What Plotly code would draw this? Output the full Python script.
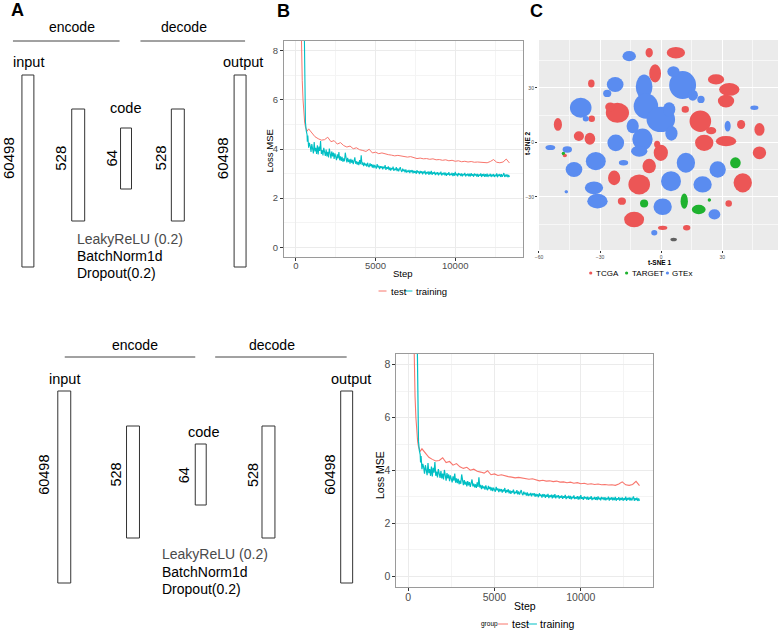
import plotly.graph_objects as go

W, H = 778, 630
FONT = "Liberation Sans, Arial, Helvetica, sans-serif"

# ---------------- data ----------------
# Panel B: loss curves (same run shown twice)
test_step = [250, 300, 350, 400, 450, 500, 550, 600, 650, 700, 800, 900, 1000] + list(range(1200, 13401, 200))
test_loss = [12.0, 9.6, 8.0, 6.8, 6.0, 5.45, 5.1, 4.9, 4.78, 4.72, 4.82, 4.75, 4.64,
             4.50, 4.42, 4.36, 4.38, 4.48, 4.30, 4.34, 4.20, 4.26, 4.14,
             4.08, 4.12, 4.01, 4.05, 3.97, 3.94, 3.90, 3.99, 3.84, 3.87,
             3.81, 3.84, 3.79, 3.77, 3.75, 3.72, 3.74, 3.71, 3.69, 3.67,
             3.69, 3.64, 3.61, 3.63, 3.60, 3.61, 3.58, 3.60, 3.56, 3.57,
             3.54, 3.56, 3.52, 3.54, 3.50, 3.52, 3.48, 3.50, 3.47, 3.49,
             3.46, 3.47, 3.45, 3.46, 3.44, 3.49, 3.57, 3.46, 3.44, 3.47,
             3.59, 3.43]

train_step = [450, 500, 530, 560, 600, 650, 700, 720, 750, 800, 850] + list(range(900, 13401, 50))
train_loss = [13.0, 9.8, 7.5, 6.0, 5.1, 4.75, 4.6, 4.3, 4.55, 4.05, 4.25,
              4.12, 3.88, 4.20, 3.95, 3.82, 4.28, 3.90, 4.05, 3.80, 4.15,
              3.78, 4.10, 3.92, 4.32, 3.80, 3.96, 3.74, 4.05, 3.86, 3.72,
              3.98, 3.70, 3.88, 3.66, 4.02, 3.75, 3.62, 3.90, 3.70, 3.85,
              3.60, 3.82, 3.66, 3.55, 3.78, 3.62, 3.88, 3.54, 3.70, 3.52,
              3.68, 3.48, 3.62, 3.50, 3.85, 3.58, 3.45, 3.64, 3.47, 3.58,
              3.40, 3.60, 3.44, 3.56, 3.38, 3.52, 3.66, 3.40, 3.50, 3.36,
              3.48, 3.34, 3.55, 3.38, 3.74, 3.36, 3.46, 3.30, 3.44, 3.33,
              3.40, 3.28, 3.44, 3.31, 3.26, 3.42, 3.30, 3.38, 3.24, 3.36,
              3.22, 3.35, 3.27, 3.20, 3.38, 3.25, 3.32, 3.18, 3.30, 3.22,
              3.30, 3.17, 3.28, 3.21, 3.34, 3.15, 3.26, 3.19, 3.29, 3.14,
              3.25, 3.12, 3.22, 3.17, 3.28, 3.11, 3.20, 3.14, 3.26, 3.10,
              3.21, 3.09, 3.18, 3.26, 3.12, 3.07, 3.20, 3.10, 3.16, 3.05,
              3.17, 3.04, 3.12, 3.06, 3.15, 3.02, 3.13, 3.08, 3.14, 3.01,
              3.12, 3.03, 3.10, 2.99, 3.14, 3.04, 3.09, 2.98, 3.11, 3.02,
              3.10, 2.97, 3.08, 3.01, 3.12, 2.96, 3.06, 3.00, 3.09, 2.95,
              3.08, 2.98, 3.11, 2.95, 3.05, 2.99, 3.07, 2.94, 3.04, 2.97,
              3.06, 2.93, 3.03, 2.97, 3.08, 2.92, 3.02, 2.96, 3.05, 2.93,
              3.04, 2.91, 3.01, 2.95, 3.06, 2.92, 2.99, 2.94, 3.03, 2.90,
              3.02, 2.91, 3.07, 2.93, 2.99, 2.89, 3.02, 2.94, 3.00, 2.90,
              3.01, 2.89, 2.98, 2.93, 3.03, 2.88, 2.97, 2.92, 3.00, 2.89,
              2.99, 2.88, 3.02, 2.91, 2.97, 2.87, 3.00, 2.92, 2.98, 2.88,
              2.99, 2.87, 2.96, 2.91, 3.01, 2.86, 2.97, 2.90, 2.99, 2.87,
              2.97, 2.88, 3.00, 2.86, 2.95, 2.90, 2.99, 2.86, 2.96, 2.89,
              2.98, 2.86, 2.95, 2.89, 3.01, 2.85, 2.96, 2.90, 2.98, 2.86,
              2.97, 2.87, 2.94, 3.02, 2.86, 2.95, 2.88, 2.97, 2.85, 2.94,
              2.86]

loss_xticks = [0, 5000, 10000]
loss_yticks = [0, 2, 4, 6, 8]

# Panel A: autoencoder architecture
layer_names = ["input", "", "code", "", "output"]
layer_units = ["60498", "528", "64", "528", "60498"]
section_names = ["encode", "decode"]
layer_notes = ["LeakyReLU (0.2)", "BatchNorm1d", "Dropout(0.2)"]

# Panel C: t-SNE clusters (centre x, centre y, half-width, half-height in t-SNE units)
tcga_x = [-5.9, 7.2, -3.0, -34.3, 26.9, 33.4, 31.8, -21.5, -34.1, -50.7, -40.4, -35.0, 11.8, 19.2, 21.1, 31.8,
          39.2, 48.2, 48.2, -0.2, -5.9, -23.1, -10.8, -19.3, 40.0, 33.1, -13.3, 0.7, 12.5, -47.3,
          -2.0, 24.5, -25.0, 1.5]
tcga_y = [49.4, 49.4, 38.0, 32.5, 34.7, 29.2, 22.8, 16.3, 13.0, 9.9, 3.5, 2.0, 18.2, 11.7, -0.2, 0.7,
          9.9, 7.2, -5.7, -5.7, -13.0, -19.5, -23.1, -32.3, -22.2, -33.6, -42.4, -47.0, -47.0, -7.2,
          -1.0, 6.5, 19.5, 10.0]
tcga_rx = [1.8, 4.5, 2.9, 1.6, 4.0, 5.0, 4.0, 5.7, 1.6, 2.0, 2.5, 2.6, 1.8, 5.3, 4.5, 5.0,
           2.0, 2.5, 3.3, 3.5, 3.3, 3.0, 5.3, 2.0, 4.5, 1.6, 4.9, 2.3, 1.8, 1.0,
           1.5, 2.5, 2.5, 0.8]
tcga_ry = [2.6, 3.2, 5.0, 2.2, 2.8, 3.5, 3.5, 5.5, 1.8, 3.5, 2.7, 3.3, 1.8, 5.9, 4.5, 2.8,
           2.5, 3.5, 3.5, 4.5, 4.0, 4.0, 5.5, 2.0, 5.3, 1.8, 4.3, 1.2, 1.5, 1.0,
           2.0, 2.0, 2.5, 0.8]

gtex_x = [-15.7, -22.6, -39.5, -22.3, -32.1, -42.8, -33.0, -31.3, -54.4, -46.1, -8.4, -7.5, -0.2, -9.2, 3.9,
          -10.8, 10.5, 12.1, 4.8, 27.7, 20.3, 0.7, 26.1, -3.4, 19.5, 32.6, 45.7, -18.5, -46.6,
          -14.0, 5.0, 6.0, 15.5, -26.5, -37.0]
gtex_y = [47.5, 31.9, 19.1, -0.2, -10.3, -14.9, -25.0, -32.3, -2.8, -3.9, 30.6, 20.0, 12.7, 1.7, 18.2,
          -4.8, 31.6, -11.2, -21.3, -14.9, -23.1, -35.4, -39.6, -49.7, 23.7, 9.0, 19.1, -11.2, -27.2,
          9.0, 5.0, 39.0, 26.0, 27.0, 13.0]
gtex_rx = [3.3, 4.1, 5.3, 4.1, 4.9, 4.1, 4.5, 5.0, 2.4, 2.3, 4.1, 6.0, 7.0, 5.0, 3.0,
           4.0, 6.6, 4.5, 4.9, 4.0, 4.5, 4.5, 2.9, 1.5, 1.8, 1.5, 2.0, 2.3, 0.8,
           3.0, 3.0, 3.0, 2.5, 2.0, 1.5]
gtex_ry = [2.8, 4.1, 5.5, 4.6, 5.0, 4.1, 3.5, 4.0, 1.4, 1.8, 6.8, 7.0, 7.0, 6.0, 4.0,
           3.0, 7.7, 5.5, 5.5, 4.5, 4.5, 4.6, 2.8, 1.5, 2.0, 3.0, 1.2, 1.5, 0.8,
           4.0, 4.0, 3.0, 3.0, 2.0, 1.5]

target_x = [36.4, 11.3, 18.4, -8.4, -48.0, 23.6]
target_y = [-11.2, -32.3, -36.9, -33.6, -6.1, -31.7]
target_rx = [2.6, 1.8, 3.4, 2.0, 0.8, 0.8]
target_ry = [3.0, 4.2, 2.6, 2.2, 0.8, 0.8]

na_x = [6.1]
na_y = [-53.4]
na_rx = [1.6]
na_ry = [1.0]

tsne_xticks = [-60, -30, 0, 30]
tsne_yticks = [-30, 0, 30]
tsne_groups = ["TCGA", "TARGET", "GTEx"]

# ---------------- styles ----------------
C_TEST, C_TRAIN = "#F8766D", "#00BFC4"
C_TCGA, C_TARGET, C_GTEX, C_NA = "#EC5656", "#1FB22F", "#5A8CF0", "#606060"


def P(px, py):
    return px / W, 1 - py / H


annotations = []
shapes = []


def ann(text, px, py, size, color="#000000", xanchor="center", yanchor="middle", angle=0):
    x, y = P(px, py)
    annotations.append(dict(text=text, x=x, y=y, xref="paper", yref="paper", showarrow=False,
                            xanchor=xanchor, yanchor=yanchor, textangle=angle,
                            font=dict(family=FONT, size=size, color=color)))


def pline(x0, y0, x1, y1, color="#333333", width=1):
    a, b = P(x0, y0)
    c, d = P(x1, y1)
    shapes.append(dict(type="line", xref="paper", yref="paper", x0=a, y0=b, x1=c, y1=d,
                       line=dict(color=color, width=width)))


def prect(x0, y0, x1, y1):
    a, b = P(x0, y0)
    c, d = P(x1, y1)
    shapes.append(dict(type="rect", xref="paper", yref="paper", x0=a, y0=d, x1=c, y1=b,
                       line=dict(color="#333333", width=1), fillcolor="white"))


def pdot(cx, cy, r, color):
    a, b = P(cx - r, cy + r)
    c, d = P(cx + r, cy - r)
    shapes.append(dict(type="circle", xref="paper", yref="paper", x0=a, y0=b, x1=c, y1=d,
                       line=dict(width=0), fillcolor=color))


# ---------------- Panel A diagrams ----------------
TOP = dict(cx=[25, 75.5, 123.5, 175.5, 238], bw=[12, 13, 11, 13, 12],
           y0=[75, 109, 128, 109, 75], y1=[267, 221, 189, 221, 267],
           unit_x=[5, 57, 108, 158, 220], unit_y=158,
           name_xy=[(26, 62), None, (123, 108), None, (241, 62)],
           sec_text=[(69, 27), (181.5, 27)], sec_line=[(10, 117, 41), (138, 243, 41)],
           note_x=72, note_y=[239, 256, 273], fs=14, unit_fs=15)
BOT = dict(cx=[61.5, 130.5, 198.5, 266.5, 345], bw=[13, 13, 11, 13, 12],
           y0=[391, 426, 444, 426, 391], y1=[583, 538, 505, 538, 583],
           unit_x=[41, 113, 182, 251, 328], unit_y=475,
           name_xy=[(62, 379), None, (201, 432), None, (349, 379)],
           sec_text=[(133, 345), (270, 345)], sec_line=[(62, 193, 357), (213, 345, 357)],
           note_x=158, note_y=[554, 572, 589], fs=14, unit_fs=14.5)

for g in (TOP, BOT):
    for i, unit in enumerate(layer_units):
        prect(g["cx"][i] - g["bw"][i] / 2, g["y0"][i], g["cx"][i] + g["bw"][i] / 2, g["y1"][i])
        ann(unit, g["unit_x"][i], g["unit_y"], g["unit_fs"], angle=-90)
        if layer_names[i] and g["name_xy"][i]:
            ann(layer_names[i], g["name_xy"][i][0], g["name_xy"][i][1], g["fs"] + 0.5)
    for j, sec in enumerate(section_names):
        ann(sec, g["sec_text"][j][0], g["sec_text"][j][1], g["fs"])
        x0, x1, yy = g["sec_line"][j]
        pline(x0, yy, x1, yy, color="#444444", width=1)
    for k, note in enumerate(layer_notes):
        ann(note, g["note_x"], g["note_y"][k], g["fs"], color="#4a4a4a" if k == 0 else "#000000",
            xanchor="left")

# panel letters
ann("<b>A</b>", 15, 10, 18)
ann("<b>B</b>", 282, 11, 18)
ann("<b>C</b>", 536, 11, 18)

# axis titles
ann("Loss MSE", 267.5, 151, 9.5, angle=-90)
ann("Step", 402, 273, 9.5)
ann("Loss MSE", 378.5, 475, 10.5, angle=-90)
ann("Step", 524, 606, 10.5)
ann("<b>t-SNE 1</b>", 660, 262.5, 6.5)
ann("<b>t-SNE 2</b>", 527, 143, 6.5, angle=-90)

# ---------------- traces ----------------
fig = go.Figure()
for xa, ya, lw in (("x", "y", 1.0), ("x3", "y3", 1.1)):
    fig.add_trace(go.Scatter(x=test_step, y=test_loss, mode="lines", name="test",
                             line=dict(color=C_TEST, width=lw), xaxis=xa, yaxis=ya, showlegend=False))
    fig.add_trace(go.Scatter(x=train_step, y=train_loss, mode="lines", name="training",
                             line=dict(color=C_TRAIN, width=lw + 0.1), xaxis=xa, yaxis=ya, showlegend=False))

clusters = [("TCGA", tcga_x, tcga_y, tcga_rx, tcga_ry, C_TCGA),
            ("GTEx", gtex_x, gtex_y, gtex_rx, gtex_ry, C_GTEX),
            ("TARGET", target_x, target_y, target_rx, target_ry, C_TARGET),
            ("NA", na_x, na_y, na_rx, na_ry, C_NA)]
for name, gx, gy, grx, gry, col in clusters:
    for x, y, rx, ry in zip(gx, gy, grx, gry):
        shapes.append(dict(type="circle", xref="x2", yref="y2", x0=x - rx, x1=x + rx,
                           y0=y - ry, y1=y + ry, fillcolor=col, line=dict(width=0), layer="above"))
    fig.add_trace(go.Scatter(x=gx, y=gy, mode="markers", name=name, xaxis="x2", yaxis="y2",
                             marker=dict(size=3, color=col), showlegend=False, hoverinfo="skip"))

# C background (theme_grey)
shapes.insert(0, dict(type="rect", xref="x2 domain", yref="y2 domain", x0=0, x1=1, y0=0, y1=1,
                      fillcolor="#EBEBEB", line=dict(width=0), layer="below"))

# ---------------- manual legends ----------------
# top B
pline(377, 291, 385, 291, color=C_TEST, width=1)
ann("test", 387.5, 291, 9.5, xanchor="left")
pline(403, 291, 411, 291, color=C_TRAIN, width=1)
ann("training", 412.5, 291, 9.5, xanchor="left")
# bottom B
ann("group", 488, 624, 6.5)
pline(497, 624, 507, 624, color=C_TEST, width=1)
ann("test", 508.5, 624, 10.5, xanchor="left")
pline(526, 624, 536, 624, color=C_TRAIN, width=1)
ann("training", 537.5, 624, 10.5, xanchor="left")
# C
for (dx, tx), name, col in zip([(590, 593), (626, 629), (667, 670)], tsne_groups, [C_TCGA, C_TARGET, C_GTEX]):
    pdot(dx, 273, 1.6, col)
    ann(name, tx, 273, 8, xanchor="left")


# ---------------- axes ----------------
def loss_axes(xdom, ydom, xr, yr, tick_fs, anchor_x, anchor_y):
    common = dict(ticks="outside", ticklen=3, tickcolor="#333333", tickwidth=1,
                  tickfont=dict(family=FONT, size=tick_fs, color="#4D4D4D"),
                  showgrid=True, gridcolor="#EBEBEB", gridwidth=0.8,
                  showline=True, mirror=True, linecolor="#9A9A9A", linewidth=1,
                  zeroline=False, fixedrange=True)
    xa = dict(domain=xdom, range=xr, tickvals=loss_xticks, ticktext=[str(v) for v in loss_xticks],
              anchor=anchor_y, ticklabelstandoff=-3,
              minor=dict(tickvals=[2500, 7500, 12500], showgrid=True, gridcolor="#F4F4F4", gridwidth=0.5),
              **common)
    ya = dict(domain=ydom, range=yr, tickvals=loss_yticks, ticktext=[str(v) for v in loss_yticks],
              anchor=anchor_x,
              minor=dict(tickvals=[1, 3, 5, 7], showgrid=True, gridcolor="#F4F4F4", gridwidth=0.5),
              **common)
    return xa, ya


xa1, ya1 = loss_axes([282 / W, 522 / W], [1 - 257 / H, 1 - 41 / H], [-750, 14250], [-0.4, 8.4], 9.5, "x", "y")
xa3, ya3 = loss_axes([395 / W, 653 / W], [1 - 587 / H, 1 - 354 / H], [-675, 14210], [-0.4, 8.4], 10.5, "x3", "y3")

tsne_common = dict(ticks="outside", ticklen=2, tickcolor="#333333", tickwidth=0.6,
                   tickfont=dict(family=FONT, size=5, color="#4D4D4D"),
                   showgrid=True, gridcolor="#FFFFFF", gridwidth=0.8, showline=False,
                   zeroline=False, fixedrange=True,
                   minor=dict(tickvals=[-45, -15, 15, 45], showgrid=True, gridcolor="#F7F7F7", gridwidth=0.4))
xa2 = dict(domain=[537 / W, 1.0], range=[-60.5, 57.3], tickvals=tsne_xticks, anchor="y2", **tsne_common)
ya2 = dict(domain=[1 - 250 / H, 1 - 40 / H], range=[-59.2, 56.4], tickvals=tsne_yticks, anchor="x2", **tsne_common)

fig.update_layout(
    width=W, height=H, margin=dict(l=0, r=0, t=0, b=0),
    paper_bgcolor="white", plot_bgcolor="white", showlegend=False,
    font=dict(family=FONT),
    xaxis=xa1, yaxis=ya1, xaxis2=xa2, yaxis2=ya2, xaxis3=xa3, yaxis3=ya3,
    shapes=shapes, annotations=annotations,
)

fig.write_html("out.html", config={"displayModeBar": False},
               post_script="document.body.style.margin='0px';")
